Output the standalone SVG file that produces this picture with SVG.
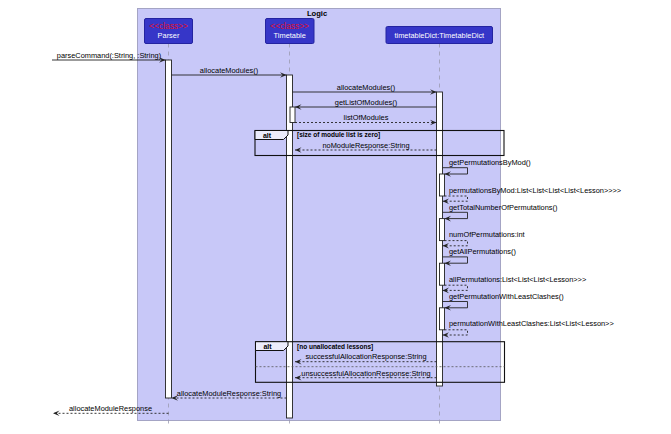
<svg xmlns="http://www.w3.org/2000/svg" width="671" height="434" viewBox="0 0 671 434">
<style>
text{font-family:"Liberation Sans",Arial,sans-serif;font-size:7.4px;fill:#000}
.m{text-anchor:middle}
.hd{font-size:7.6px;font-weight:bold}
.cls{fill:#dd1133;font-size:8.4px}
.wt{fill:#fff}
.grd{font-size:6.5px;font-weight:bold}
.alt{font-size:7px;font-weight:bold}
.box{fill:#3636c8;stroke:#2424a0;stroke-width:1}
.life{stroke:#9a9ab0;stroke-width:0.8;stroke-dasharray:4,4;fill:none}
.act{fill:#fff;stroke:#222;stroke-width:0.9}
.msg{stroke:#222;stroke-width:0.9;fill:none;marker-end:url(#ah)}
.ret{stroke:#222;stroke-width:0.9;fill:none;stroke-dasharray:2,2;marker-end:url(#ah)}
.frm{fill:none;stroke:#111;stroke-width:1.1}
.tab{fill:#ececfb;stroke:#111;stroke-width:1}
.sep{stroke:#555;stroke-width:0.8;stroke-dasharray:2,2}
</style>
<defs>
<marker id="ah" markerUnits="userSpaceOnUse" viewBox="-7 -4 8 8" refX="0" refY="0" markerWidth="8" markerHeight="8" orient="auto">
<path d="M0,0 L-6.5,-2.8 L-3.8,0 L-6.5,2.8 Z" fill="#222"/>
</marker>
</defs>
<rect width="671" height="434" fill="#fff"/>
<g id="logic-frame">
<rect x="137.5" y="8.5" width="363" height="412" fill="#c8c8f8" stroke="#a4a4c4" stroke-width="1"/>
<text class="m hd" x="317" y="16">Logic</text>
</g>
<g id="lifelines">
<line class="life" x1="168.5" y1="43.5" x2="168.5" y2="425"/>
<line class="life" x1="289.5" y1="43.5" x2="289.5" y2="425"/>
<line class="life" x1="439.5" y1="43.5" x2="439.5" y2="425"/>
</g>
<g id="parser">
<rect class="box" x="144.5" y="18.5" width="48" height="25" rx="1.5"/>
<text class="m cls" x="168.5" y="28.8">&lt;&lt;class&gt;&gt;</text>
<text class="m wt" x="168.5" y="38">Parser</text>
</g>
<g id="timetable">
<rect class="box" x="265.5" y="18.5" width="48.5" height="25" rx="1.5"/>
<text class="m cls" x="289.7" y="28.8">&lt;&lt;class&gt;&gt;</text>
<text class="m wt" x="289.7" y="38">Timetable</text>
</g>
<g id="timetableDict">
<rect class="box" x="386" y="26.5" width="106.5" height="17" rx="1.5"/>
<text class="m wt" x="439.3" y="38">timetableDict:TimetableDict</text>
</g>
<g id="activations">
<rect class="act" x="165.5" y="60" width="6" height="338"/>
<rect class="act" x="286.5" y="75" width="6" height="343"/>
<rect class="act" x="290" y="107" width="5" height="15.5"/>
<rect class="act" x="436.5" y="92" width="6" height="294"/>
<rect class="act" x="439.5" y="174" width="5" height="22"/>
<rect class="act" x="439.5" y="218.6" width="5" height="22"/>
<rect class="act" x="439.5" y="263.2" width="5" height="22"/>
<rect class="act" x="439.5" y="307.8" width="5" height="22"/>
</g>
<g id="fragments">
<rect class="frm" x="255" y="130.5" width="249" height="25"/>
<path class="tab" d="M255,130.5 H288 V135 L283.5,139.5 H255 Z"/>
<text class="m alt" x="267" y="137.8">alt</text>
<text class="grd" x="297" y="136.5">[size of module list is zero]</text>
<rect class="frm" x="255.5" y="341.7" width="249" height="40.6"/>
<path class="tab" d="M255.5,341.7 H288 V346 L283.5,350.5 H255.5 Z"/>
<text class="m alt" x="267.5" y="348.8">alt</text>
<text class="grd" x="297" y="348.5">[no unallocated lessons]</text>
<line class="sep" x1="255.5" y1="366.7" x2="504.5" y2="366.7"/>
</g>
<g id="connectors">
<line class="msg" x1="52" y1="60" x2="165.5" y2="60"/>
<text class="m" x="109" y="57.5">parseCommand(:String, :String)</text>
<line class="msg" x1="171.5" y1="75" x2="286.5" y2="75"/>
<text class="m" x="229" y="72.5">allocateModules()</text>
<line class="msg" x1="292.5" y1="92" x2="436.5" y2="92"/>
<text class="m" x="366" y="89.5">allocateModules()</text>
<line class="msg" x1="436.5" y1="107" x2="295" y2="107"/>
<text class="m" x="366" y="104.5">getListOfModules()</text>
<line class="ret" x1="295" y1="122.5" x2="436.5" y2="122.5"/>
<text class="m" x="366" y="120">listOfModules</text>
<line class="ret" x1="436.5" y1="150" x2="295" y2="150"/>
<text class="m" x="366" y="147.5">noModuleResponse:String</text>

<path class="msg" d="M442.5,167.7 H467.5 V174 H444.5"/>
<text x="449" y="165">getPermutationsByMod()</text>
<path class="ret" d="M444.5,196 H467.5 V201.2 H442.5"/>
<text x="449" y="192.6">permutationsByMod:List&lt;List&lt;List&lt;List&lt;Lesson&gt;&gt;&gt;&gt;</text>

<path class="msg" d="M442.5,212.3 H467.5 V218.6 H444.5"/>
<text x="449" y="209.6">getTotalNumberOfPermutations()</text>
<path class="ret" d="M444.5,240.6 H467.5 V245.8 H442.5"/>
<text x="449" y="237.2">numOfPermutations:int</text>

<path class="msg" d="M442.5,256.9 H467.5 V263.2 H444.5"/>
<text x="449" y="254.2">getAllPermutations()</text>
<path class="ret" d="M444.5,285.2 H467.5 V290.4 H442.5"/>
<text x="449" y="281.8">allPermutations:List&lt;List&lt;List&lt;Lesson&gt;&gt;&gt;</text>

<path class="msg" d="M442.5,301.5 H467.5 V307.8 H444.5"/>
<text x="449" y="298.8">getPermutationWithLeastClashes()</text>
<path class="ret" d="M444.5,329.8 H467.5 V335 H442.5"/>
<text x="449" y="326.4">permutationWithLeastClashes:List&lt;List&lt;Lesson&gt;&gt;</text>

<line class="ret" x1="436.5" y1="361.7" x2="295" y2="361.7"/>
<text class="m" x="366" y="359">successfulAllocationResponse:String</text>
<line class="ret" x1="436.5" y1="377.7" x2="295" y2="377.7"/>
<text class="m" x="366" y="375.5">unsuccessfulAllocationResponse:String</text>
<line class="ret" x1="286.5" y1="398" x2="171.5" y2="398"/>
<text class="m" x="229" y="395.5">allocateModuleResponse:String</text>
<line class="ret" x1="168.5" y1="413.3" x2="53" y2="413.3"/>
<text class="m" x="110.5" y="410.8">allocateModuleResponse</text>
</g>
</svg>
